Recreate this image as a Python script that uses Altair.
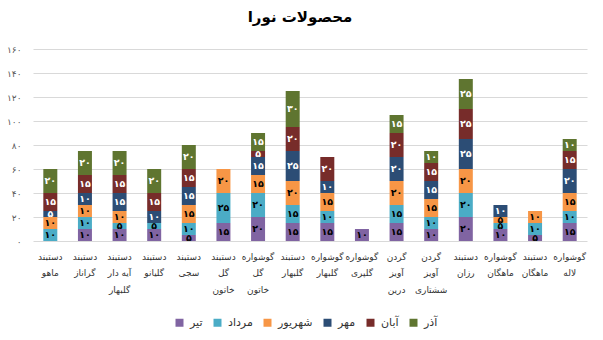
import altair as alt
import pandas as pd

# ---- data ----
categories = [
    "دستبند|ماهو", "دستبند|گراناز", "دستبند|آیه دار|گلبهار", "دستبند|گلیانو",
    "دستبند|سجی", "دستبند|گل|خاتون", "گوشواره|گل|خاتون", "دستبند|گلبهار",
    "گوشواره|گلبهار", "گوشواره|گلپری", "گردن|آویز|درین", "گردن|آویز|ششتاری",
    "دستبند|رزان", "گوشواره|ماهگان", "دستبند|ماهگان", "گوشواره|لاله",
]
months = ["تیر", "مرداد", "شهریور", "مهر", "آبان", "آذر"]
month_colors = ["#8064A2", "#4BACC6", "#F79646", "#2C4D75", "#772C2A", "#5F7530"]
label_colors = ["#000000", "#000000", "#000000", "#FFFFFF", "#FFFFFF", "#FFFFFF"]

tir       = [0, 10, 10, 10, 5, 15, 20, 15, 15, 10, 15, 10, 20, 10, 5, 15]
mordad    = [10, 10, 5, 5, 10, 25, 20, 15, 10, 0, 15, 10, 20, 5, 10, 10]
shahrivar = [10, 10, 10, 0, 15, 20, 15, 20, 15, 0, 20, 15, 20, 5, 10, 15]
mehr      = [5, 10, 15, 10, 15, 0, 15, 25, 10, 0, 20, 15, 25, 10, 0, 20]
aban      = [15, 15, 15, 15, 15, 0, 5, 20, 20, 0, 20, 15, 25, 0, 0, 15]
azar      = [20, 20, 20, 20, 20, 0, 15, 30, 0, 0, 15, 10, 25, 0, 0, 10]

y_ticks = [0, 20, 40, 60, 80, 100, 120, 140, 160]

# ---- helpers ----
fa_digits = str.maketrans("0123456789", "۰۱۲۳۴۵۶۷۸۹")
def fa(n):
    return str(n).translate(fa_digits)

series = [tir, mordad, shahrivar, mehr, aban, azar]
rows = []
for mi, (m, vals) in enumerate(zip(months, series)):
    for c, v in zip(categories, vals):
        if v > 0:
            rows.append({"cat": c, "month": m, "order": mi, "value": v,
                         "label": fa(v)})
df = pd.DataFrame(rows)

y_label_expr = ""
for t in y_ticks:
    y_label_expr += f"datum.value == {t} ? '{fa(t)}' : "
y_label_expr += "datum.label"

FONT = "DejaVu Sans"

base = alt.Chart(df).transform_stack(
    stack="value", groupby=["cat"], as_=["y0", "y1"],
    sort=[alt.SortField("order", order="ascending")],
).transform_calculate(mid="(datum.y0 + datum.y1) / 2")

y_scale = alt.Scale(domain=[0, 160], nice=False)
x_scale = alt.Scale(paddingInner=0.6, paddingOuter=0.3)

x_axis = alt.Axis(labelAngle=0, labelExpr="split(datum.label, '|')",
                  labelFont=FONT, labelFontSize=9, labelColor="#333333",
                  labelLineHeight=16.5, labelPadding=15,
                  labelBaseline="middle", title=None,
                  ticks=False, domain=False, labelLimit=200)
y_axis = alt.Axis(values=y_ticks, labelExpr=y_label_expr,
                  labelOverlap=False, title=None,
                  labelFont=FONT, labelFontSize=9,
                  labelColor="#595959", labelPadding=12,
                  gridColor="#d9d9d9", gridWidth=1,
                  ticks=False, domain=False)

bars = base.mark_bar(size=14).encode(
    x=alt.X("cat:N", sort=categories, title=None, scale=x_scale, axis=x_axis),
    y=alt.Y("y0:Q", title=None, scale=y_scale, axis=y_axis),
    y2="y1:Q",
    color=alt.Color("month:N", sort=months,
                    scale=alt.Scale(domain=months, range=month_colors),
                    legend=alt.Legend(title=None, orient="none",
                                      direction="horizontal",
                                      legendX=141, legendY=268,
                                      symbolType="square", symbolSize=64,
                                      symbolStrokeWidth=0,
                                      labelFont=FONT, labelFontSize=11,
                                      labelColor="#333333",
                                      columnPadding=9, labelOffset=5)),
)

texts = base.mark_text(font=FONT, fontSize=9.5, fontWeight="bold",
                       baseline="middle", align="center").encode(
    x=alt.X("cat:N", sort=categories, title=None, scale=x_scale, axis=x_axis),
    y=alt.Y("mid:Q", title=None, scale=y_scale, axis=y_axis),
    text="label:N",
    color=alt.Color("month:N", scale=alt.Scale(domain=months, range=label_colors),
                    legend=None),
)

chart = alt.layer(bars, texts).resolve_scale(color="independent").properties(
    width=554, height=192,
    title=alt.TitleParams("محصولات نورا", font=FONT, fontSize=15,
                          fontWeight="bold", color="#000000",
                          anchor="middle", offset=20, dx=-10),
    padding={"left": 33, "top": 49, "right": 16, "bottom": 99},
    autosize=alt.AutoSizeParams(type="none"),
).configure(background="white").configure_view(stroke=None)

chart.save("out.html", embed_options={"renderer": "svg", "actions": False})
